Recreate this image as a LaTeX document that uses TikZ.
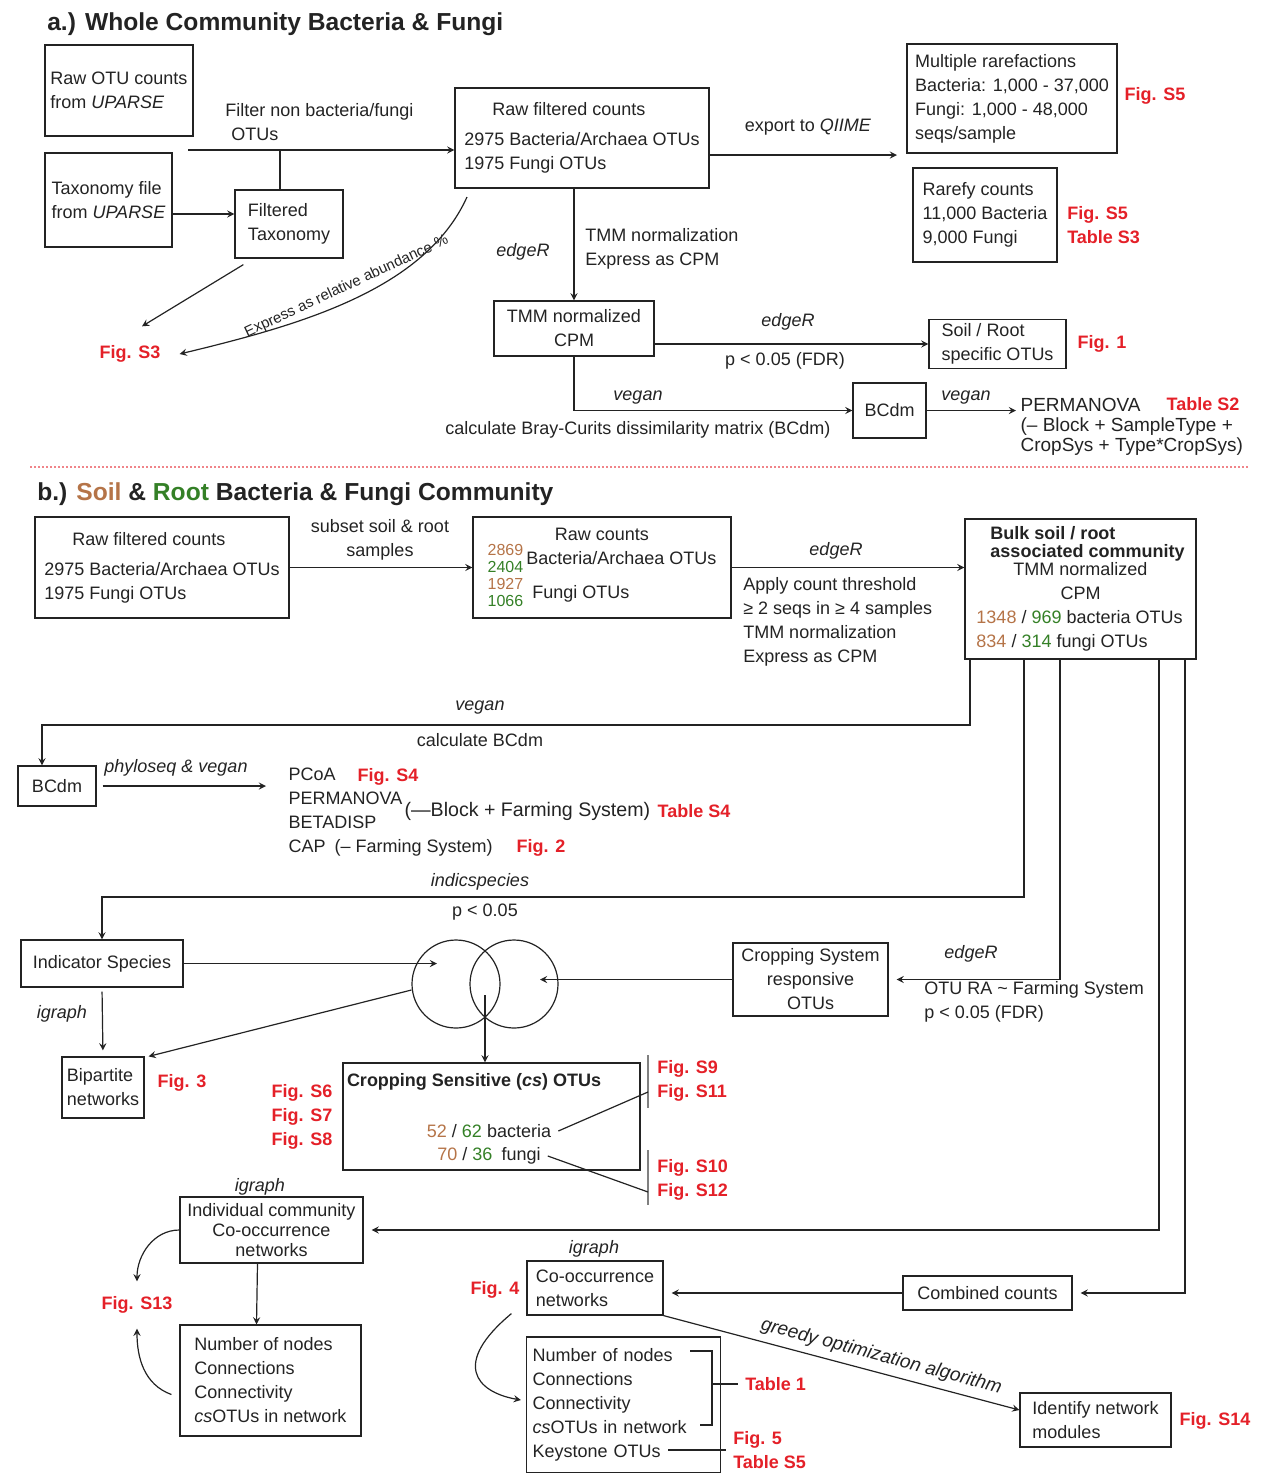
\documentclass[tikz,border=0pt]{standalone}
\usepackage{fontspec}
\setmainfont{Liberation Sans}
\usepackage{tikz}
\usetikzlibrary{positioning}

\definecolor{figred}{RGB}{228,32,40}
\definecolor{soil}{RGB}{181,116,72}
\definecolor{root}{RGB}{52,128,38}
\definecolor{ink}{RGB}{35,35,35}

\newlength{\px}
\setlength{\px}{0.5pt}
\newcommand{\fs}{\fontsize{9}{12}\selectfont}
\newcommand{\twonum}[2]{{\fontsize{8}{8.5}\selectfont\begin{tabular}{@{}l@{}}\textcolor{soil}{#1}\\\textcolor{root}{#2}\end{tabular}}}

\begin{document}
\begin{tikzpicture}[
            x=0.5pt, y=-0.5pt,
            every node/.style={font=\fs},
            box/.style 2 args={draw=ink, minimum width=#1\px, minimum height=#2\px, inner sep=2pt},
            fig/.style={text=figred, font=\fs\bfseries},
            head/.style={font=\fontsize{12.3}{14}\selectfont\bfseries, anchor=west},
            ->, >=stealth, semithick, color=ink
        ]
        \useasboundingbox (0,0) rectangle (1260,1473);

        % a.) Nodes
        \node[head] (titlea) at (40,24) {a.) Whole Community Bacteria \& Fungi};
        \node[box={148}{91}, align=left] (rawotu) at (119,90.5) {Raw OTU counts\\from \textit{UPARSE}};
        \node[box={127}{94}, align=left] (taxfile) at (108.5,200) {Taxonomy file\\from \textit{UPARSE}};
        \node[box={108}{68}, align=left] (filttax) at (289,224) {Filtered\\Taxonomy};
        \node[box={254}{100}, align=left] (rawfilt) at (582,138) {\hspace*{14pt}Raw filtered counts\\[3pt]2975 Bacteria/Archaea OTUs\\1975 Fungi OTUs};
        \node[box={210}{109}, align=left] (multrare) at (1012,98.5) {Multiple rarefactions\\Bacteria: 1,000 - 37,000\\Fungi: 1,000 - 48,000\\seqs/sample};
        \node[box={144}{94}, align=left] (rarefy) at (985,215) {Rarefy counts\\11,000 Bacteria\\9,000 Fungi};
        \node[box={160}{55}, align=center] (tmm) at (574,328.5) {TMM normalized\\CPM};
        \node[box={137}{48}, align=left] (soilroot) at (997.5,344) {Soil / Root\\specific OTUs};
        \node[box={73}{55}] (bcdma) at (889.5,410.5) {BCdm};
        \node[anchor=north west, align=left, inner sep=2pt, font=\fontsize{9.5}{10}\selectfont] (permanova) at (1016,394) {PERMANOVA\\(– Block + SampleType +\\CropSys + Type*CropSys)};

        \node[fig] (figsfive) at (1155,96) {Fig. S5};
        \node[fig, align=left, anchor=west] (figsfiveb) at (1060,225) {Fig. S5\\Table S3};
        \node[fig] (figone) at (1102,344) {Fig. 1};
        \node[fig] (tablestwo) at (1203,404) {Table S2};
        \node[fig] (figsthree) at (130,354) {Fig. S3};

        \node[align=left, anchor=west] (filterlbl) at (218,122) {Filter non bacteria/fungi\\\hspace*{3pt}OTUs};
        \node (qiimelbl) at (808,127) {export to \textit{QIIME}};
        \node (edgerlbla) at (523,252) {\textit{edgeR}};
        \node[align=left, anchor=west] (tmmlbl) at (578,249) {TMM normalization\\Express as CPM};
        \node (edgerlblb) at (788,322) {\textit{edgeR}};
        \node (fdrlbl) at (785,361) {p < 0.05 (FDR)};
        \node (veganlbla) at (638,398) {\textit{vegan}};
        \node (braylbl) at (638,430) {calculate Bray-Curits dissimilarity matrix (BCdm)};
        \node (veganlblb) at (966,398) {\textit{vegan}};

        \coordinate (filtstart) at (188,150);
        \coordinate (filtjoin) at (280,150);
        \coordinate (qiime) at (897,155);
        \coordinate (exprstart) at (467,197);
        \coordinate (sepl) at (30,467);
        \coordinate (sepr) at (1250,467);

        % a.) Arrows
        \draw (filtstart) -- (filtstart -| rawfilt.west);
        \draw[-] (filtjoin) -- (filtjoin |- filttax.north);
        \draw ([yshift=-7pt]taxfile.east) -- ([yshift=-7pt]taxfile.east -| filttax.west);
        \draw (qiime -| rawfilt.east) -- (qiime);
        \draw (rawfilt.south -| tmm.north) -- (tmm.north);
        \draw (tmm.east |- soilroot.west) -- (soilroot.west);
        \draw (tmm.south) |- (bcdma.west);
        \draw (bcdma.east) -- (bcdma.east -| permanova.west);
        \draw ([shift={(9,6)}]filttax.south west) -- ([shift={(12,-12)}]figsthree.north);
        \draw[<-] ([xshift=6pt]figsthree.east) .. controls (300,325) and (425,290) .. (exprstart)
            node[sloped, above, pos=0.5, font=\fontsize{7.5}{8}\selectfont] (exprlbl) {Express as relative abundance \%};
        \draw[-, densely dotted, figred!55, line width=1pt] (sepl) -- (sepr);

        % b.) Nodes
        \node[head] (titleb) at (30,494) {b.) \textcolor{soil}{Soil} \& \textcolor{root}{Root} Bacteria \& Fungi Community};
        \node[box={254}{101}, align=left] (rawfiltb) at (162,567.5) {\hspace*{14pt}Raw filtered counts\\[3pt]2975 Bacteria/Archaea OTUs\\1975 Fungi OTUs};
        \node[box={258}{101}] (rawcounts) at (602,567.5) {\begin{tabular}{@{}l@{\,}l@{}}\multicolumn{2}{c}{Raw counts}\\[-2pt]\twonum{2869}{2404} & Bacteria/Archaea OTUs\\[2pt]\twonum{1927}{1066} & \hspace*{3pt}Fungi OTUs\end{tabular}};
        \node[box={231}{138}] (bulk) at (1080.5,589) {\begin{tabular}{@{}l@{}}
            \hspace*{7pt}\textbf{Bulk soil / root}\\[-3pt]
            \hspace*{7pt}\textbf{associated community}\\[-3pt]
            \multicolumn{1}{@{}c@{}}{TMM normalized}\\
            \multicolumn{1}{@{}c@{}}{CPM}\\
            \textcolor{soil}{1348} / \textcolor{root}{969} bacteria OTUs\\
            \textcolor{soil}{834} / \textcolor{root}{314} fungi OTUs
        \end{tabular}};

        \node[align=center] (subsetlbl) at (380,540) {subset soil \& root\\samples};
        \node (edgerlblc) at (836,551) {\textit{edgeR}};
        \node[align=left, anchor=west] (threshlbl) at (736,622) {Apply count threshold\\≥ 2 seqs in ≥ 4 samples\\TMM normalization\\Express as CPM};
        \node (veganlblc) at (480,708) {\textit{vegan}};
        \node (bcdmlbl) at (480,740) {calculate BCdm};

        \node[box={78}{40}] (bcdmb) at (57,786) {BCdm};
        \node (physeqlbl) at (176,768) {\textit{phyloseq \& vegan}};
        \node[align=left, anchor=west, inner sep=2pt] (analysis) at (284,812.5) {PCoA\\PERMANOVA\\BETADISP\\CAP\hspace{0.5em}(– Farming System)};
        \node[fig] (figsfour) at (388,777) {Fig. S4};
        \node[anchor=west, inner sep=1pt, font=\fontsize{9.8}{12}\selectfont] (modellbl) at (402,811) {(—Block + Farming System)};
        \node[fig] (tablesfour) at (694,811) {Table S4};
        \node[fig] (figtwo) at (541,848) {Fig. 2};

        \node (indiclbl) at (480,882) {\textit{indicspecies}};
        \node (plbl) at (485,912) {p < 0.05};
        \node[box={162}{47}] (indsp) at (102,963.5) {Indicator Species};
        \node[draw=ink, circle, minimum size=88\px, inner sep=0pt] (vennl) at (456,984) {};
        \node[draw=ink, circle, minimum size=88\px, inner sep=0pt] (vennr) at (514,984) {};
        \node[box={155}{73}, align=center, inner sep=1pt] (cropresp) at (810.5,979.5) {Cropping System\\responsive\\OTUs};
        \node (edgerlbld) at (971,954) {\textit{edgeR}};
        \node[align=left, anchor=west] (otularbl) at (917,1002) {OTU RA \textasciitilde{} Farming System\\p < 0.05 (FDR)};
        \node (igraphlbla) at (62,1014) {\textit{igraph}};
        \node[box={82}{61}, align=left] (bipart) at (103,1087.5) {Bipartite\\networks};
        \node[fig] (figthree) at (182,1083) {Fig. 3};

        \node[box={297}{107}] (csotu) at (491.5,1116.5) {};
        \node[anchor=north west, font=\fs\bfseries, inner xsep=2pt, inner ysep=5pt] (cstitle) at (csotu.north west) {Cropping Sensitive (\textit{cs}) OTUs};
        \node (csbact) at (489,1131) {\textcolor{soil}{52} / \textcolor{root}{62} bacteria};
        \node (csfungi) at (489,1156) {\textcolor{soil}{70} / \textcolor{root}{36}\hspace{0.5em}fungi};
        \node[fig, align=center] (figsix) at (302,1117) {Fig. S6\\Fig. S7\\Fig. S8};
        \node[fig, anchor=west, align=left] (fignine) at (650,1081) {Fig. S9\\Fig. S11};
        \node[fig, anchor=west, align=left] (figten) at (650,1180) {Fig. S10\\Fig. S12};

        \node (igraphlblb) at (260,1187) {\textit{igraph}};
        \node[box={183}{66}, align=center] (indiv) at (271.5,1230) {Individual community\\[-2pt]Co-occurrence\\[-2pt]networks};
        \node[box={181}{111}, align=left] (statsa) at (270.5,1380.5) {Number of nodes\\Connections\\Connectivity\\\textit{cs}OTUs in network};
        \node[fig] (figsthirteen) at (137,1305) {Fig. S13};

        \node[box={169}{34}] (combined) at (987.5,1293) {Combined counts};
        \node (igraphlblc) at (594,1249) {\textit{igraph}};
        \node[box={136}{54}, align=left] (cooc) at (595,1288) {Co-occurrence\\networks};
        \node[fig] (figfour) at (495,1290) {Fig. 4};
        \node[draw=ink, text width=91pt, inner xsep=3pt, inner ysep=2pt, minimum height=136\px, align=left] (statsb) at (623.5,1405) {Number of nodes\\Connections\\Connectivity\\\textit{cs}OTUs in network\\Keystone OTUs};
        \node[fig, anchor=west] (tableone) at (738,1384) {Table 1};
        \node[fig, anchor=west, align=left] (figfive) at (726,1450) {Fig. 5\\Table S5};
        \node[box={151}{54}, align=left] (identify) at (1095.5,1420) {Identify network\\modules};
        \node[fig] (figsfourteen) at (1215,1421) {Fig. S14};

        \coordinate (bcdmbend) at (970,725);
        \coordinate (bcdmdrop) at (42,725);
        \coordinate (indbend) at (1024,897);
        \coordinate (cropbend) at (1060,975);
        \coordinate (indivbend) at (1159,1232);
        \coordinate (combbend) at (1185,1294);
        \coordinate (vennlin) at (437,967);
        \coordinate (vennrin) at (540,975);
        \coordinate (vennmid) at (485,995);
        \coordinate (barat) at (648,1055);
        \coordinate (barab) at (648,1108);
        \coordinate (barbt) at (648,1150);
        \coordinate (barbb) at (648,1205);
        \coordinate (barajoin) at (648,1092);
        \coordinate (barbjoin) at (648,1192);
        \coordinate (brkt) at (712,1351);
        \coordinate (brkm) at (712,1384);
        \coordinate (brkb) at (712,1425);
        \coordinate (keyend) at (668,1450);

        % b.) Arrows
        \draw (rawfiltb.east) -- (rawcounts.west);
        \draw (rawcounts.east) -- (rawcounts.east -| bulk.west);
        \draw (bulk.south -| bcdmbend) |- (bcdmdrop) -- (bcdmdrop |- bcdmb.north);
        \draw[shorten <=3pt, shorten >=9pt] (bcdmb.east) -- (bcdmb.east -| analysis.west);
        \draw (bulk.south -| indbend) |- (indbend -| indsp.north) -- (indsp.north);
        \draw[shorten >=4pt] (bulk.south -| cropbend) |- (cropresp.east);
        \draw (indsp.east) -- (indsp.east -| vennlin);
        \draw (cropresp.west) -- (cropresp.west -| vennrin);
        \draw ([yshift=-3pt]vennl.west) -- ([xshift=2pt]bipart.north east);
        \draw (vennmid) -- (vennmid |- csotu.north);
        \draw[shorten <=2pt, shorten >=3pt] (indsp.south) -- (bipart.north);
        \draw[-, gray, line width=1pt] (barat) -- (barab);
        \draw[-, gray, line width=1pt] (barbt) -- (barbb);
        \draw[-] (csbact.east) -- (barajoin);
        \draw[-] (csfungi.east) -- (barbjoin);
        \draw[shorten >=4pt] (bulk.south -| indivbend) |- (indiv.east);
        \draw ([xshift=-7pt]indiv.south) -- ([xshift=-7pt]statsa.north);
        \draw (indiv.west) to[out=180, in=90] ([yshift=4pt]figsthirteen.north);
        \draw ([shift={(-8,14)}]statsa.west) to[out=160, in=-90] ([yshift=-4pt]figsthirteen.south);
        \draw[shorten >=4pt] (bulk.south -| combbend) |- (combined.east);
        \draw[shorten >=4pt] (combined.west) -- (combined.west -| cooc.east);
        \draw ([shift={(-15,-2)}]cooc.south west) .. controls +(-60,50) and +(-45,-8) .. ([shift={(-5,-5)}]statsb.west);
        \draw[-] ([xshift=-11pt]brkt) -- (brkt) -- (brkb) -- ([xshift=-6pt]brkb);
        \draw[-] (brkm) -- (tableone.west);
        \draw[-] (keyend) -- (keyend -| figfive.west);
        \draw (cooc.south east) -- ([yshift=5pt]identify.west)
            node[sloped, above, pos=0.6, font=\fontsize{9.5}{10}\selectfont\itshape] (greedylbl) {greedy optimization algorithm};
\end{tikzpicture}
\end{document}
